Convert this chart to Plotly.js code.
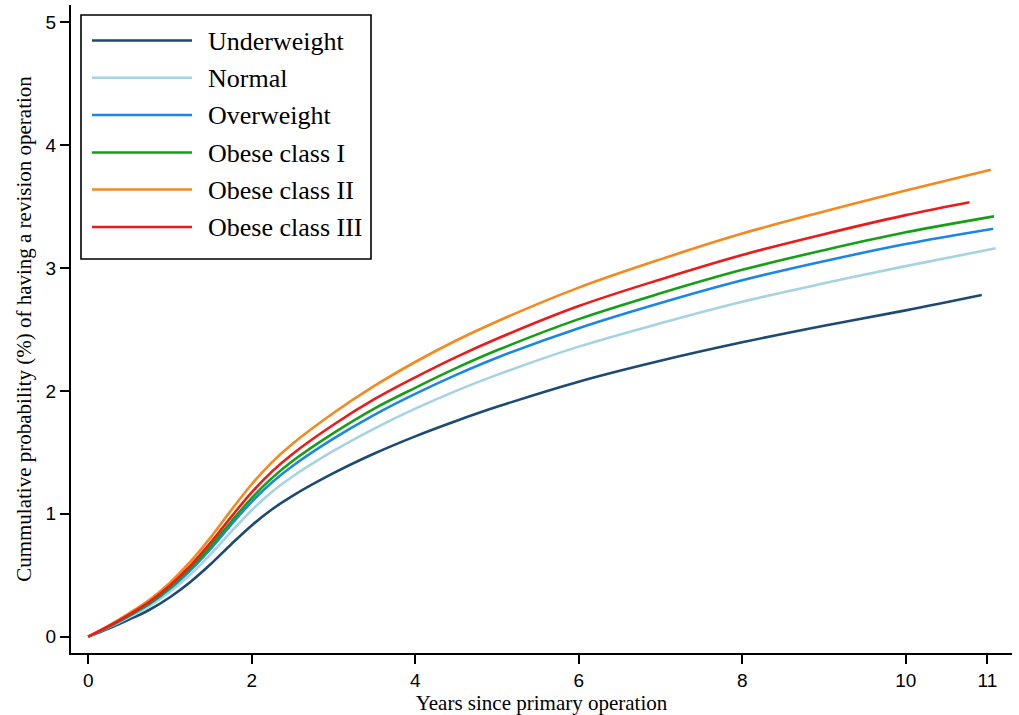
<!DOCTYPE html>
<html>
<head>
<meta charset="utf-8">
<script src="https://cdn.plot.ly/plotly-3.0.1.min.js"></script>
<style>html,body{margin:0;padding:0;background:#fff;}#chart{width:1019px;height:715px;}</style>
</head>
<body>
<div id="chart"></div>
<script>
// Series names and colours
var seriesNames = ["Underweight", "Normal", "Overweight", "Obese class I", "Obese class II", "Obese class III"];
var seriesColors = ["#1c4a72", "#a6d3e3", "#1a87e6", "#14a014", "#f5891c", "#ee1a1a"];

// Years (x) and cumulative probability (%); last point = end of line
var xUnderweight = [0, 0.25, 0.5, 0.75, 1, 1.25, 1.5, 1.75, 2, 2.25, 2.5, 3, 3.5, 4, 4.5, 5, 6, 7, 8, 9, 10, 10.93];
var yUnderweight = [0, 0.066, 0.139, 0.219, 0.321, 0.445, 0.591, 0.752, 0.905, 1.037, 1.146, 1.33, 1.49, 1.63, 1.755, 1.87, 2.075, 2.245, 2.395, 2.53, 2.655, 2.78];

var xNormal = [0, 0.25, 0.5, 0.75, 1, 1.25, 1.5, 1.75, 2, 2.25, 2.5, 3, 3.5, 4, 4.5, 5, 6, 7, 8, 9, 10, 11.1];
var yNormal = [0, 0.075, 0.158, 0.249, 0.365, 0.506, 0.672, 0.855, 1.029, 1.179, 1.303, 1.511, 1.693, 1.855, 2.0, 2.13, 2.36, 2.55, 2.725, 2.875, 3.015, 3.16];

var xOverweight = [0, 0.25, 0.5, 0.75, 1, 1.25, 1.5, 1.75, 2, 2.25, 2.5, 3, 3.5, 4, 4.5, 5, 6, 7, 8, 9, 10, 11.07];
var yOverweight = [0, 0.08, 0.168, 0.266, 0.389, 0.54, 0.717, 0.912, 1.097, 1.257, 1.389, 1.611, 1.805, 1.975, 2.13, 2.27, 2.51, 2.715, 2.9, 3.055, 3.195, 3.32];

var xObese1 = [0, 0.25, 0.5, 0.75, 1, 1.25, 1.5, 1.75, 2, 2.25, 2.5, 3, 3.5, 4, 4.5, 5, 6, 7, 8, 9, 10, 11.08];
var yObese1 = [0, 0.082, 0.173, 0.273, 0.40, 0.555, 0.737, 0.937, 1.128, 1.292, 1.429, 1.656, 1.856, 2.025, 2.185, 2.33, 2.584, 2.794, 2.985, 3.145, 3.29, 3.42];

var xObese2 = [0, 0.25, 0.5, 0.75, 1, 1.25, 1.5, 1.75, 2, 2.25, 2.5, 3, 3.5, 4, 4.5, 5, 6, 7, 8, 9, 10, 11.04];
var yObese2 = [0, 0.09, 0.19, 0.30, 0.44, 0.61, 0.81, 1.03, 1.24, 1.42, 1.57, 1.82, 2.04, 2.235, 2.41, 2.565, 2.84, 3.07, 3.28, 3.46, 3.63, 3.80];

var xObese3 = [0, 0.25, 0.5, 0.75, 1, 1.25, 1.5, 1.75, 2, 2.25, 2.5, 3, 3.5, 4, 4.5, 5, 6, 7, 8, 9, 10, 10.78];
var yObese3 = [0, 0.085, 0.18, 0.284, 0.417, 0.578, 0.767, 0.975, 1.174, 1.345, 1.487, 1.724, 1.932, 2.11, 2.275, 2.424, 2.69, 2.907, 3.106, 3.275, 3.43, 3.535];

var xTickVals = [0, 2, 4, 6, 8, 10, 11];
var xTickText = ["0", "2", "4", "6", "8", "10", "11"];
var yTickVals = [0, 1, 2, 3, 4, 5];
var yTickText = ["0", "1", "2", "3", "4", "5"];

var xTitle = "Years since primary operation";
var yTitle = "Cummulative probability (%) of having a revision operation";

var xs = [xUnderweight, xNormal, xOverweight, xObese1, xObese2, xObese3];
var ys = [yUnderweight, yNormal, yOverweight, yObese1, yObese2, yObese3];

var traces = seriesNames.map(function (name, i) {
  return {
    type: "scatter", mode: "lines", name: name,
    x: xs[i], y: ys[i],
    line: {color: seriesColors[i], width: 2.6, shape: "spline", smoothing: 1},
    showlegend: false, hoverinfo: "skip"
  };
});

// Plot area geometry (px) for the hand-built legend box
var W = 1019, H = 715;
var mL = 71, mR = 7, mT = 5, mB = 62;
var pw = W - mL - mR, ph = H - mT - mB;
function px(xp) { return (xp - mL) / pw; }
function py(yp) { return 1 - (yp - mT) / ph; }

var shapes = [{
  type: "rect", xref: "paper", yref: "paper",
  x0: px(81), x1: px(371), y0: py(259), y1: py(15),
  line: {color: "#000", width: 1.6}, fillcolor: "#fff", layer: "above"
}];
var annotations = [];
var rowY = [40.5, 77.8, 115, 152.5, 189.5, 227];
seriesNames.forEach(function (name, i) {
  shapes.push({
    type: "line", xref: "paper", yref: "paper",
    x0: px(92), x1: px(192), y0: py(rowY[i]), y1: py(rowY[i]),
    line: {color: seriesColors[i], width: 2.6}, layer: "above"
  });
  annotations.push({
    xref: "paper", yref: "paper", x: px(206), y: py(rowY[i] + 1),
    xanchor: "left", yanchor: "middle", showarrow: false, text: name,
    font: {family: "Liberation Serif, Times New Roman, serif", size: 26, color: "#000"}
  });
});

var layout = {
  width: W, height: H,
  margin: {l: mL, r: mR, t: mT, b: mB, pad: 0},
  paper_bgcolor: "#fff", plot_bgcolor: "#fff",
  showlegend: false,
  xaxis: {
    range: [-0.21, 11.3], tickvals: xTickVals, ticktext: xTickText,
    showgrid: false, zeroline: false, showline: true, linecolor: "#000", linewidth: 2,
    ticks: "outside", ticklen: 9, tickwidth: 2, tickcolor: "#000",
    tickfont: {family: "Liberation Sans, Arial, sans-serif", size: 19, color: "#000"},
    title: {text: xTitle, standoff: 6, font: {family: "Liberation Serif, Times New Roman, serif", size: 21, color: "#000"}}
  },
  yaxis: {
    range: [-0.133, 5.14], tickvals: yTickVals, ticktext: yTickText,
    showgrid: false, zeroline: false, showline: true, linecolor: "#000", linewidth: 2,
    ticks: "outside", ticklen: 9, tickwidth: 2, tickcolor: "#000",
    tickfont: {family: "Liberation Sans, Arial, sans-serif", size: 19, color: "#000"},
    title: {text: yTitle, standoff: 8, font: {family: "Liberation Serif, Times New Roman, serif", size: 21, color: "#000"}}
  },
  shapes: shapes,
  annotations: annotations
};

Plotly.newPlot("chart", traces, layout, {displayModeBar: false, staticPlot: true});
</script>
</body>
</html>
